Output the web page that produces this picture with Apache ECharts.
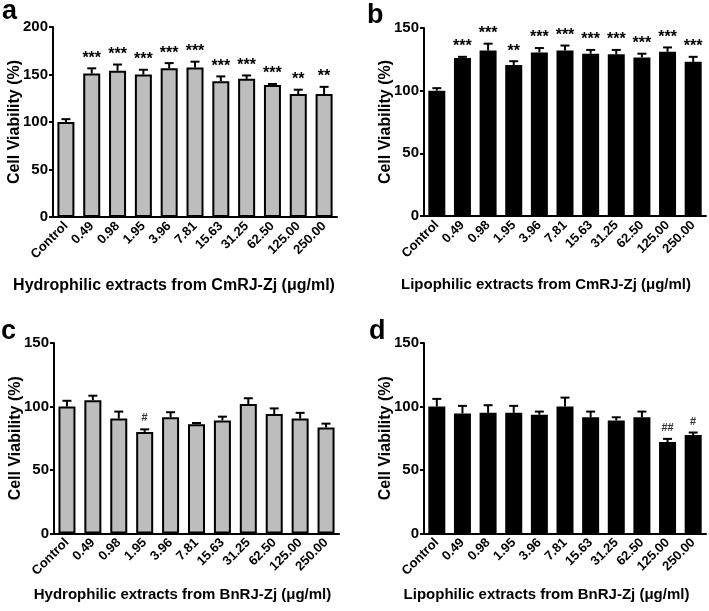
<!DOCTYPE html>
<html>
<head>
<meta charset="utf-8">
<script src="https://cdn.jsdelivr.net/npm/echarts@6/dist/echarts.min.js"></script>
<style>html,body{margin:0;padding:0;background:#fff;}#c{width:709px;height:611px;}</style>
</head>
<body>
<div id="c"></div>
<script>
const categories = ['Control','0.49','0.98','1.95','3.96','7.81','15.63','31.25','62.50','125.00','250.00'];

const meanA = [100,151,154,150,156.5,157.5,143,145.5,139,129.5,129.5];
const errA  = [3,5.5,6.5,5,5.5,6,5,3.5,1,4.5,7.5];
const sigA  = ['','***','***','***','***','***','***','***','***','**','**'];

const meanB = [100,126,132,120.5,130.5,132,129.5,129,126.5,131,123];
const errB  = [2,1,5.5,3,3.5,4,3,3.5,3,3.5,4];
const sigB  = ['','***','***','**','***','***','***','***','***','***','***'];

const meanC = [100,105,90.5,80,91.5,86,89,102,94,90.5,83.5];
const errC  = [4.5,3.5,5.5,2,4,1,3,4.5,4.5,4.5,3];
const sigC  = ['','','','#','','','','','','',''];

const meanD = [100,94.5,95,95,93.5,100,91.5,89,91.5,72,77.5];
const errD  = [6,6,6,5.5,2.5,7,4.5,2.5,4.5,2.5,2];
const sigD  = ['','','','','','','','','','##','#'];

const xTitles = ['Hydrophilic extracts from CmRJ-Zj (μg/ml)','Lipophilic extracts from CmRJ-Zj (μg/ml)','Hydrophilic extracts from BnRJ-Zj (μg/ml)','Lipophilic extracts from BnRJ-Zj (μg/ml)'];
const yTitle = 'Cell Viability (%)';
const yMax = [200,150,150,150];
const panelLetters = ['a','b','c','d'];

const FF = '"Liberation Sans", Arial, sans-serif';
const chart = echarts.init(document.getElementById('c'), null, {renderer:'canvas'});

const panels = [
  {mean:meanA, err:errA, sig:sigA, fill:'#bdbdbd'},
  {mean:meanB, err:errB, sig:sigB, fill:'#000000'},
  {mean:meanC, err:errC, sig:sigC, fill:'#bdbdbd'},
  {mean:meanD, err:errD, sig:sigD, fill:'#000000'}
];
const grids = [
  {left:53, top:27, width:284, height:190},
  {left:424, top:28, width:282, height:188},
  {left:54, top:343, width:285, height:190.5},
  {left:424, top:343, width:282, height:190.5}
];
const nameGaps = [61,61,54,54];
const titleSize = [16,15,15,15];
const titleShift = [42,38,28,37];

const xAxes = [], yAxes = [], series = [];
panels.forEach((p, i) => {
  xAxes.push({
    gridIndex:i, type:'category', data:categories,
    axisLine:{lineStyle:{color:'#000', width:2}},
    axisTick:{alignWithLabel:true, length:5, lineStyle:{color:'#000', width:2}},
    axisLabel:{rotate:45, color:'#000', fontWeight:'bold', fontSize:13, fontFamily:FF, margin:7, interval:0},
    name:xTitles[i], nameLocation:'middle', nameGap:nameGaps[i], nameMoveOverlap:false,
    nameTextStyle:{color:'#000', fontWeight:'bold', fontSize:titleSize[i], fontFamily:FF, padding:[0, titleShift[i], 0, 0]}
  });
  yAxes.push({
    gridIndex:i, type:'value', min:0, max:yMax[i], interval:50,
    axisLine:{show:true, lineStyle:{color:'#000', width:2}},
    axisTick:{show:true, length:4, lineStyle:{color:'#000', width:2}},
    axisLabel:{color:'#000', fontWeight:'bold', fontSize:15, fontFamily:FF, margin:5},
    splitLine:{show:false},
    name:yTitle, nameLocation:'middle', nameGap:30, nameRotate:90, nameMoveOverlap:false,
    nameTextStyle:{color:'#000', fontWeight:'bold', fontSize:16, fontFamily:FF}
  });
  series.push({
    type:'bar', xAxisIndex:i, yAxisIndex:i, data:p.mean, barWidth:17,
    itemStyle:{color:p.fill, borderColor:'#000', borderWidth:2},
    z:2
  });
  series.push({
    type:'custom', xAxisIndex:i, yAxisIndex:i, z:3,
    data:p.mean.map((m, k) => [k, m, p.err[k]]),
    renderItem:function(params, api){
      const k = api.value(0), m = api.value(1), e = api.value(2);
      const s = p.sig[params.dataIndex];
      const base = api.coord([k, m]);
      const top = api.coord([k, m + e]);
      const children = [
        {type:'line', shape:{x1:base[0], y1:base[1], x2:top[0], y2:top[1]}, style:{stroke:'#000', lineWidth:2}},
        {type:'line', shape:{x1:top[0]-4.5, y1:top[1], x2:top[0]+4.5, y2:top[1]}, style:{stroke:'#000', lineWidth:2}}
      ];
      if (s) {
        const star = s.indexOf('*') >= 0;
        children.push({type:'text', style:{text:s, x:top[0], y:top[1] - (star ? 10 : 11), align:'center', verticalAlign:'middle',
          font: star ? ('bold 16px ' + FF) : ('bold 11px ' + FF), fill: star ? '#000' : '#333'}});
      }
      return {type:'group', children:children};
    }
  });
});

const letterPos = [[2,-2],[367,2],[1,318],[369,318]];
const graphic = panelLetters.map((t, i) => ({
  type:'text', left:letterPos[i][0], top:letterPos[i][1], z:10,
  style:{text:t, font:'bold 27px ' + FF, fill:'#000'}
}));

chart.setOption({
  animation:false,
  grid:grids,
  xAxis:xAxes,
  yAxis:yAxes,
  series:series,
  graphic:graphic
});
</script>
</body>
</html>
